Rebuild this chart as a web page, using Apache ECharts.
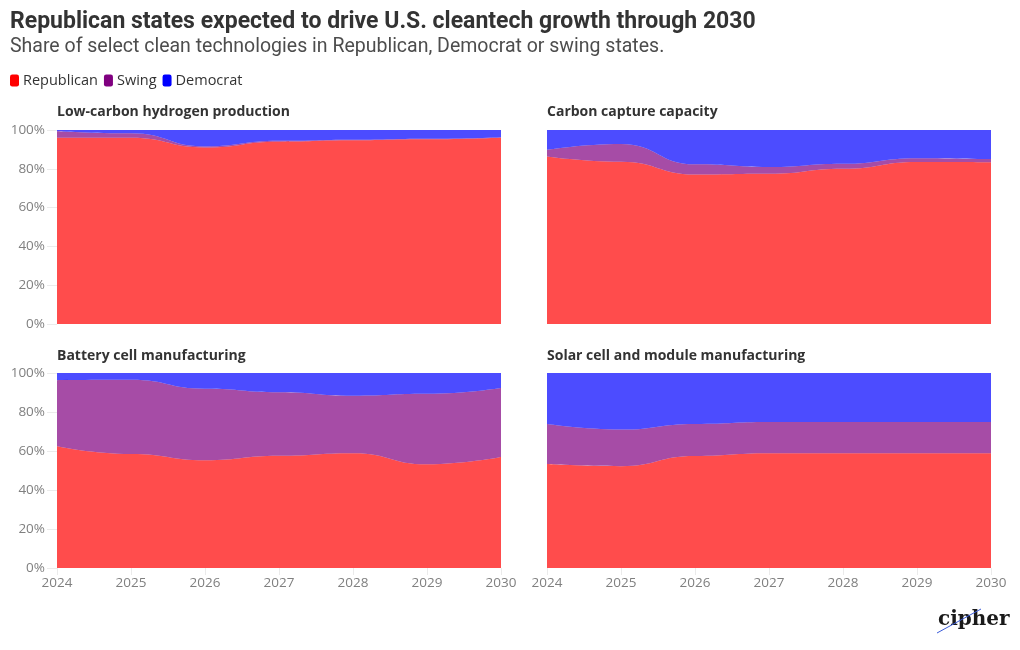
<!DOCTYPE html>
<html>
<head>
<meta charset="utf-8">
<script src="https://cdn.jsdelivr.net/npm/echarts@6/dist/echarts.min.js"></script>
<style>
html,body{margin:0;padding:0;background:#fff;}
#chart{width:1020px;height:650px;}
</style>
</head>
<body>
<div id="chart"></div>
<script>
const years = ['2024','2025','2026','2027','2028','2029','2030'];
const yTicks = [0, 20, 40, 60, 80, 100];
const seriesNames = ['Republican', 'Swing', 'Democrat'];
const panelTitles = ['Low-carbon hydrogen production', 'Carbon capture capacity', 'Battery cell manufacturing', 'Solar cell and module manufacturing'];

const hydrogenRep   = [96.0, 96.0, 91.0, 94.0, 94.7, 95.2, 96.0];
const hydrogenSwing = [3.4, 2.3, 0.5, 0.4, 0.3, 0.3, 0.3];
const hydrogenDem   = [0.6, 1.7, 8.5, 5.6, 5.0, 4.5, 3.7];

const carbonRep   = [86.3, 83.6, 77.0, 77.4, 80.0, 83.5, 83.4];
const carbonSwing = [3.5, 9.2, 5.3, 3.5, 2.6, 2.0, 1.6];
const carbonDem   = [10.2, 7.2, 17.7, 19.1, 17.4, 14.5, 15.0];

const batteryRep   = [62.5, 58.5, 55.3, 57.6, 58.9, 53.2, 56.9];
const batterySwing = [33.8, 38.0, 36.6, 32.5, 29.4, 36.1, 35.4];
const batteryDem   = [3.7, 3.5, 8.1, 9.9, 11.7, 10.7, 7.7];

const solarRep   = [53.3, 52.2, 57.4, 58.8, 58.8, 58.8, 58.8];
const solarSwing = [20.5, 18.8, 16.5, 16.1, 16.1, 16.1, 16.1];
const solarDem   = [26.2, 29.0, 26.1, 25.1, 25.1, 25.1, 25.1];

const panelData = [
  [hydrogenRep, hydrogenSwing, hydrogenDem],
  [carbonRep, carbonSwing, carbonDem],
  [batteryRep, batterySwing, batteryDem],
  [solarRep, solarSwing, solarDem]
];
const colors = ['#ff0000', '#800080', '#0000ff'];

const grids = [
  {left: 57, top: 130, width: 444, height: 194},
  {left: 547, top: 130, width: 444, height: 194},
  {left: 57, top: 373, width: 444, height: 195},
  {left: 547, top: 373, width: 444, height: 195}
];
const panelTitleTops = [105, 105, 349, 349];
const labelFont = 'Open Sans';
const tickColor = '#ebebeb';

const xAxes = grids.map((g, i) => ({
  type: 'category', gridIndex: i, data: years, boundaryGap: false,
  axisLine: {show: false},
  axisTick: {show: i >= 2, length: 7, alignWithLabel: true, lineStyle: {color: tickColor}},
  axisLabel: {show: i >= 2, color: '#808080', fontSize: 13.5, fontFamily: labelFont, margin: 8, interval: 0},
  splitLine: {show: false}
}));
const yAxes = grids.map((g, i) => ({
  type: 'value', gridIndex: i, min: yTicks[0], max: yTicks[yTicks.length - 1], interval: 20,
  axisLine: {show: false},
  axisTick: {show: i % 2 === 0, length: 10, lineStyle: {color: tickColor}},
  axisLabel: {show: i % 2 === 0, color: '#808080', fontSize: 13.5, fontFamily: labelFont, margin: 12, formatter: '{value}%'},
  splitLine: {show: false}
}));

const series = [];
panelData.forEach((arrs, p) => {
  arrs.forEach((vals, k) => {
    series.push({
      name: seriesNames[k], type: 'line', xAxisIndex: p, yAxisIndex: p,
      stack: 'panel' + p, data: vals,
      smooth: 0.5, smoothMonotone: 'x',
      showSymbol: false, symbol: 'none',
      itemStyle: {color: colors[k]},
      lineStyle: {width: 0},
      areaStyle: {color: colors[k], opacity: 0.7},
      emphasis: {disabled: true}
    });
  });
});

const titles = [
  {text: 'Republican states expected to drive U.S. cleantech growth through 2030', left: 10, top: 11, padding: 0,
   textStyle: {fontSize: 23, fontWeight: 'bold', color: '#333333', fontFamily: 'Roboto'}},
  {text: 'Share of select clean technologies in Republican, Democrat or swing states.', left: 10, top: 37, padding: 0,
   textStyle: {fontSize: 19.5, fontWeight: 'normal', color: '#4d4d4d', fontFamily: 'Roboto'}}
];
panelTitles.forEach((t, i) => {
  titles.push({text: t, left: grids[i].left, top: panelTitleTops[i], padding: 0,
    textStyle: {fontSize: 14, fontWeight: 'bold', color: '#333333', fontFamily: labelFont}});
});

const chart = echarts.init(document.getElementById('chart'), null, {renderer: 'canvas'});
chart.setOption({
  animation: false,
  backgroundColor: '#ffffff',
  title: titles,
  legend: {
    data: seriesNames, left: 10, top: 73, icon: 'roundRect', itemWidth: 9, itemHeight: 12, itemGap: 6,
    padding: 0,
    textStyle: {fontSize: 14.5, color: '#333333', fontFamily: labelFont, padding: [0, 0, 0, -1]}
  },
  grid: grids,
  xAxis: xAxes,
  yAxis: yAxes,
  series: series,
  graphic: [
    {type: 'text', left: 938, top: 610, z: 10,
     style: {text: 'cipher', font: 'bold 20px "DejaVu Serif"', fill: '#1a1a1a'}},
    {type: 'line', z: 11, shape: {x1: 937, y1: 633, x2: 981, y2: 609},
     style: {stroke: '#3a5bd9', lineWidth: 1}}
  ]
});
</script>
</body>
</html>
